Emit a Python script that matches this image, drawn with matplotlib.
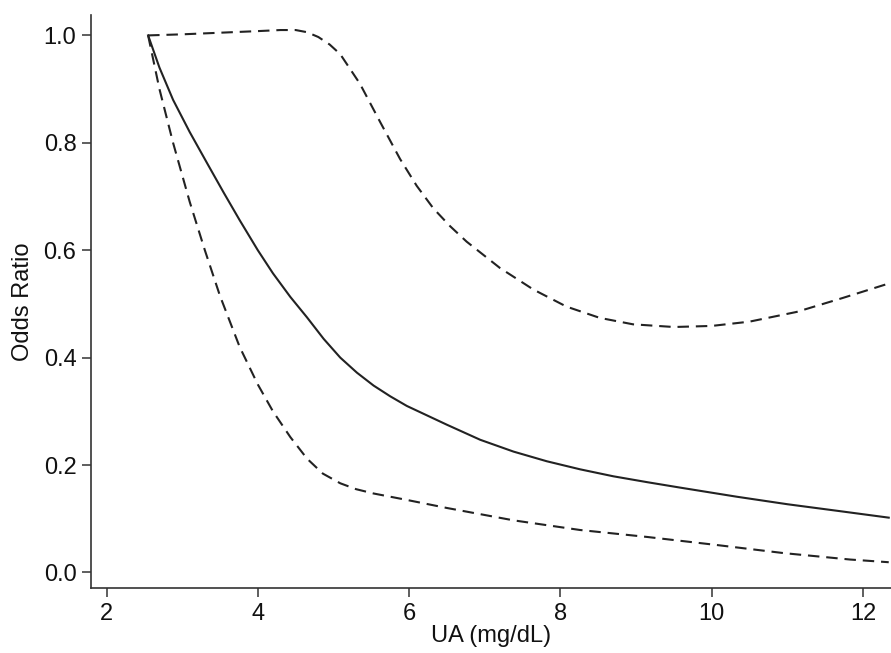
import numpy as np
import matplotlib.pyplot as plt

plt.rcParams['font.family'] = ['Liberation Sans', 'DejaVu Sans']

# spline estimate and 95% CI
ua_mid = [2.55, 2.7, 2.88, 3.1, 3.33, 3.55, 3.76, 4.0, 4.2, 4.43, 4.65, 4.87, 5.09, 5.31,
          5.53, 5.75, 5.97, 6.5, 6.94, 7.38, 7.82, 8.26, 8.7, 9.15, 9.58, 10.33, 11.0, 11.7, 12.34]
or_mid = [1.0, 0.94, 0.88, 0.82, 0.762, 0.707, 0.656, 0.6, 0.557, 0.513, 0.475, 0.435, 0.40, 0.372,
          0.348, 0.328, 0.31, 0.275, 0.247, 0.225, 0.207, 0.192, 0.179, 0.168, 0.158, 0.141, 0.127, 0.114, 0.102]

ua_hi = [2.55, 3.0, 3.5, 4.0, 4.3, 4.5, 4.65, 4.8, 4.95, 5.09, 5.35, 5.62, 5.88, 6.1, 6.32,
         6.54, 6.76, 7.2, 7.64, 8.08, 8.52, 8.96, 9.5, 10.0, 10.5, 11.12, 11.73, 12.34]
or_hi = [1.0, 1.002, 1.005, 1.008, 1.01, 1.01, 1.006, 0.997, 0.983, 0.965, 0.91, 0.838, 0.77, 0.72, 0.678,
         0.645, 0.616, 0.567, 0.527, 0.495, 0.474, 0.462, 0.457, 0.459, 0.467, 0.485, 0.511, 0.538]

ua_lo = [2.55, 2.7, 2.88, 3.1, 3.3, 3.5, 3.76, 4.0, 4.2, 4.43, 4.65, 4.86, 5.09, 5.3,
         5.53, 5.97, 6.5, 7.38, 8.26, 9.15, 10.07, 10.95, 11.83, 12.34]
or_lo = [1.0, 0.9, 0.8, 0.69, 0.6, 0.515, 0.42, 0.35, 0.30, 0.252, 0.212, 0.184, 0.166, 0.155,
         0.147, 0.135, 0.12, 0.097, 0.079, 0.066, 0.051, 0.036, 0.024, 0.019]

xticks = [2, 4, 6, 8, 10, 12]
yticks = [0.0, 0.2, 0.4, 0.6, 0.8, 1.0]

fig = plt.figure(figsize=(8.91, 6.53), dpi=100)
ax = fig.add_axes([91 / 891, 65 / 653, 800 / 891, 573 / 653])

col = '#222222'
dash = (0, (5.5, 3.3))
ax.plot(ua_mid, or_mid, color=col, lw=1.5)
ax.plot(ua_hi, or_hi, color=col, lw=1.5, linestyle=dash)
ax.plot(ua_lo, or_lo, color=col, lw=1.5, linestyle=dash)

ax.set_xlim(1.795, 12.37)
ax.set_ylim(-0.029, 1.038)
ax.set_xticks(xticks)
ax.set_yticks(yticks)
ax.set_yticklabels([f'{v:.1f}' for v in yticks])

for s in ['top', 'right']:
    ax.spines[s].set_visible(False)
for s in ['left', 'bottom']:
    ax.spines[s].set_color('#333333')
    ax.spines[s].set_linewidth(1.2)

ax.tick_params(direction='out', length=6.5, width=1.1, color='#333333',
               labelsize=17, pad=4, labelcolor='#111111')
ax.set_xlabel('UA (mg/dL)', fontsize=17, labelpad=0, color='#111111')
ax.set_ylabel('Odds Ratio', fontsize=17, labelpad=7, color='#111111')

fig.savefig('out.png', dpi=100)
